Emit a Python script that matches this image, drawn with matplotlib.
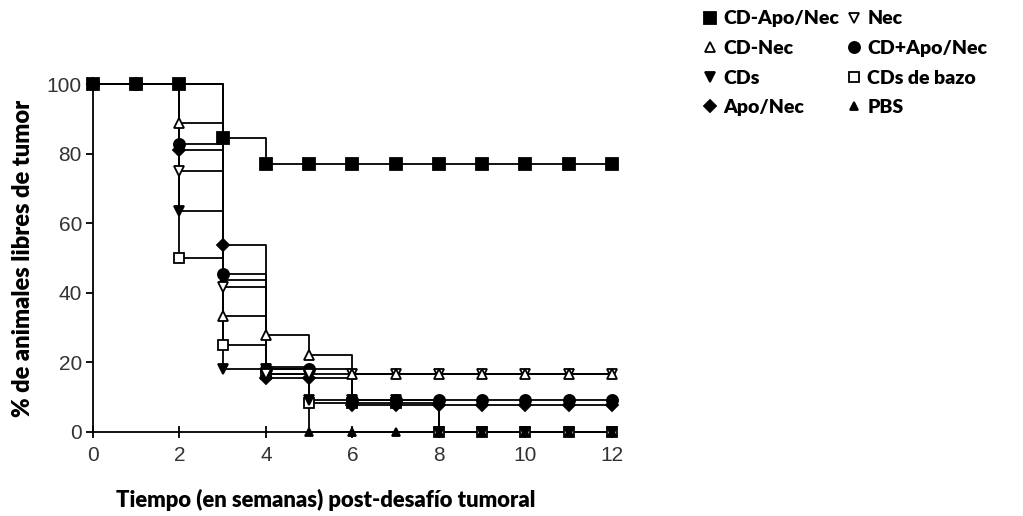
import numpy as np
import matplotlib
matplotlib.use("Agg")
import matplotlib.pyplot as plt
from matplotlib.lines import Line2D

# semanas
semanas = np.arange(0, 13)

# % de animales libres de tumor
cd_apo_nec = [100, 100, 100, 84.6, 76.9, 76.9, 76.9, 76.9, 76.9, 76.9, 76.9, 76.9, 76.9]
cd_nec = [100, 100, 88.9, 33.3, 27.8, 22.2, 16.7, 16.7, 16.7, 16.7, 16.7, 16.7, 16.7]
cds = [100, 100, 63.6, 18.2, 18.2, 9.1, 9.1, 9.1, 0, 0, 0, 0, 0]
apo_nec = [100, 100, 81.0, 53.8, 15.4, 15.4, 7.7, 7.7, 7.7, 7.7, 7.7, 7.7, 7.7]
nec = [100, 100, 75.0, 41.7, 16.7, 16.7, 16.7, 16.7, 16.7, 16.7, 16.7, 16.7, 16.7]
cd_mas_apo_nec = [100, 100, 82.8, 45.5, 18.2, 18.2, 9.1, 9.1, 9.1, 9.1, 9.1, 9.1, 9.1]
cds_bazo = [100, 100, 50.0, 25.0, 16.7, 8.3, 8.3, 8.3, 0, 0, 0, 0, 0]
pbs = [100, 100, 100, 43.75, 18.75, 0, 0, 0, 0, 0, 0, 0, 0]

nombres = ["CD-Apo/Nec", "CD-Nec", "CDs", "Apo/Nec",
           "Nec", "CD+Apo/Nec", "CDs de bazo", "PBS"]
series = [cd_apo_nec, cd_nec, cds, apo_nec, nec, cd_mas_apo_nec, cds_bazo, pbs]
marcas = ["s", "^", "v", "D", "v", "o", "s", "^"]
rellenos = ["k", "w", "k", "k", "w", "k", "w", "k"]
tamanos = [8, 7, 7, 6, 7, 8, 7, 6]

fig = plt.figure(figsize=(10.23, 5.16), dpi=100)
ax = fig.add_axes([0.0909, 0.1628, 0.5073, 0.6744])

# dibujar de atras hacia adelante
orden = [6, 2, 3, 7, 5, 4, 1, 0]
for i in orden:
    ax.step(semanas, series[i], where="post", color="k", lw=1.3, clip_on=False, zorder=2)
    ax.plot(semanas, series[i], ls="none", marker=marcas[i], ms=tamanos[i],
            mfc=rellenos[i], mec="k", mew=1.3, clip_on=False, zorder=3)

ax.set_xlim(0, 12)
ax.set_ylim(0, 100)
ax.set_xticks(range(0, 13, 2))
ax.set_yticks(range(0, 101, 20))
ax.spines["top"].set_visible(False)
ax.spines["right"].set_visible(False)
ax.spines["left"].set_linewidth(1.3)
ax.spines["bottom"].set_linewidth(1.3)
ax.tick_params(axis="x", direction="inout", length=8, width=1.3, pad=6,
               labelsize=15, labelcolor="#333333")
ax.tick_params(axis="y", direction="out", length=5, width=1.3, pad=3,
               labelsize=15, labelcolor="#333333")
for t in ax.get_xticklabels() + ax.get_yticklabels():
    t.set_family("Liberation Sans")

ax.set_xlabel("Tiempo (en semanas) post-desafío tumoral", family="Lato",
              fontweight="heavy", fontsize=15.8)
ax.xaxis.set_label_coords(0.449, -0.163)
ax.set_ylabel("% de animales libres de tumor", family="Lato",
              fontweight="heavy", fontsize=17, labelpad=9)

manijas = [Line2D([], [], ls="none", marker=marcas[i], ms=tamanos[i],
                  mfc=rellenos[i], mec="k", mew=1.3) for i in range(8)]
fig.legend(manijas, nombres, ncol=2, loc="upper left",
           bbox_to_anchor=(0.688, 0.980), frameon=False,
           prop={"family": "Lato", "weight": "heavy", "size": 14},
           handlelength=0.6, handletextpad=0.4, columnspacing=0.45,
           labelspacing=0.65, borderpad=0, borderaxespad=0)

fig.savefig("out.png", dpi=100)
